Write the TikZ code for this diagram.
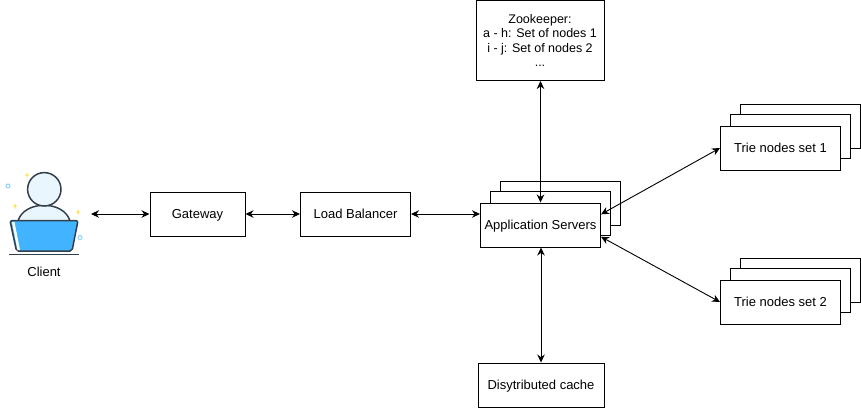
\documentclass[tikz,border=0pt]{standalone}
\usepackage{fontspec}
\usepackage{xcolor}
\usetikzlibrary{arrows.meta}
\setmainfont{Liberation Sans}
\definecolor{iconline}{RGB}{51,63,74}
\definecolor{iconbody}{RGB}{234,246,253}
\definecolor{iconblue}{RGB}{66,180,255}
\definecolor{iconspark}{RGB}{255,224,80}
\tikzset{
  box/.style={draw, fill=white, line width=1pt, font=\fontsize{13}{14.5}\selectfont, align=center, inner sep=0pt},
  oneline/.style={box, text height=10.5pt, text depth=1.5pt},
  link/.style={line width=0.9pt, {Stealth[length=8pt,width=7.5pt]}-{Stealth[length=8pt,width=7.5pt]}}
}

\begin{document}
\begin{tikzpicture}[x=1pt, y=-1pt]
  \useasboundingbox (0,0) rectangle (861,408);

  % Client icon
  \fill[iconspark] (25,174.5) rectangle (29,175.5) (26.5,172.5) rectangle (27.5,177.5);
  \fill[iconspark] (13,205.5) rectangle (17,206.5) (14.5,203.5) rectangle (15.5,208.5);
  \fill[iconspark] (76,211.5) rectangle (80,212.5) (77.5,209.5) rectangle (78.5,214.5);
  \draw[iconblue!60, line width=1pt] (8,186) circle (2);
  \draw[iconblue!60, line width=1pt] (80,237.5) circle (2);
  \draw[iconline, fill=iconbody, line width=1.5pt] (18,221) .. controls (24,200) and (64,200) .. (70,221) -- cycle;
  \draw[iconline, fill=iconbody, line width=1.5pt] (44.3,189.3) circle (16.7);
  \draw[iconline, fill=iconblue, line width=1.5pt, rounded corners=2pt] (10,220.7) -- (78,220.7) -- (72,251) -- (16.5,251) -- cycle;
  \fill[white] (12,222) -- (14.5,222) -- (20,250) -- (17.5,250) -- cycle;
  \draw[iconline, line width=1pt] (9,254.3) -- (79,254.3);
  \node[font=\fontsize{13}{14.5}\selectfont] (clientLabel) at (44,272) {Client};
  \coordinate (clientEnd) at (91,214);

  % Gateway and load balancer
  \node[oneline, minimum width=95, minimum height=44] (gateway) at (197.5,214) {Gateway};
  \node[oneline, minimum width=110, minimum height=44] (balancer) at (355.5,214) {Load Balancer};

  % Application servers
  \node[box, minimum width=120, minimum height=44] (appBack) at (560.5,203) {};
  \node[box, minimum width=120, minimum height=44] (appMid) at (550.5,213.5) {};
  \node[oneline, minimum width=120, minimum height=44] (appServers) at (540.5,225) {Application Servers};

  % Zookeeper and cache
  \node[box, font=\fontsize{12.5}{14.5}\selectfont, minimum width=128, minimum height=80] (zookeeper) at (540,40.5) {Zookeeper:\\a - h: Set of nodes 1\\i - j: Set of nodes 2\\...};
  \node[oneline, minimum width=126, minimum height=44] (cache) at (541,385) {Disytributed cache};

  % Trie nodes, set 1
  \node[box, minimum width=120, minimum height=44] (trieOneBack) at (800.5,126) {};
  \node[box, minimum width=120, minimum height=44] (trieOneMid) at (790.5,136) {};
  \node[oneline, minimum width=120, minimum height=44] (trieOne) at (780.5,148) {Trie nodes set 1};

  % Trie nodes, set 2
  \node[box, minimum width=120, minimum height=44] (trieTwoBack) at (800.5,280) {};
  \node[box, minimum width=120, minimum height=44] (trieTwoMid) at (790.5,290.5) {};
  \node[oneline, minimum width=120, minimum height=44] (trieTwo) at (780.5,302) {Trie nodes set 2};

  % Connectors
  \draw[link] (clientEnd) -- (gateway);
  \draw[link] (gateway) -- (balancer);
  \draw[link] (balancer.east) -- (appServers.west |- balancer.east);
  \draw[link] (appServers.north |- zookeeper.south) -- (appServers.north);
  \draw[link] (appServers.south -| cache) -- (cache);
  \draw[link] (appServers.10) -- (trieOne.west);
  \draw[link] (appServers.-11) -- (trieTwo.west);
\end{tikzpicture}
\end{document}
